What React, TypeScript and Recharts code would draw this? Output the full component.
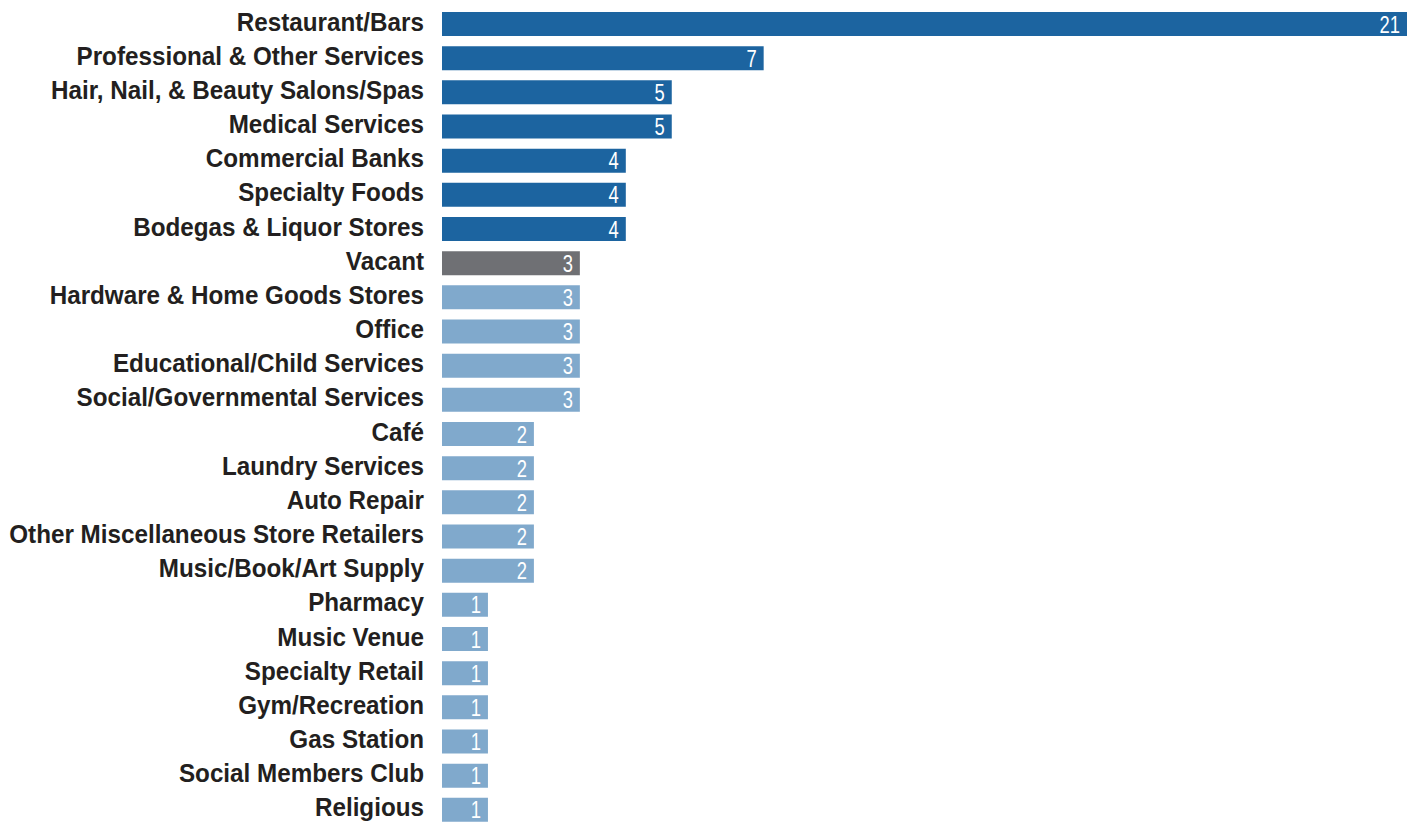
import React from 'react';
import { BarChart, Bar, XAxis, YAxis, Cell, LabelList } from 'recharts';

const categories = [
  'Restaurant/Bars',
  'Professional & Other Services',
  'Hair, Nail, & Beauty Salons/Spas',
  'Medical Services',
  'Commercial Banks',
  'Specialty Foods',
  'Bodegas & Liquor Stores',
  'Vacant',
  'Hardware & Home Goods Stores',
  'Office',
  'Educational/Child Services',
  'Social/Governmental Services',
  'Café',
  'Laundry Services',
  'Auto Repair',
  'Other Miscellaneous Store Retailers',
  'Music/Book/Art Supply',
  'Pharmacy',
  'Music Venue',
  'Specialty Retail',
  'Gym/Recreation',
  'Gas Station',
  'Social Members Club',
  'Religious',
];

const counts = [21, 7, 5, 5, 4, 4, 4, 3, 3, 3, 3, 3, 2, 2, 2, 2, 2, 1, 1, 1, 1, 1, 1, 1];

// which group each bar belongs to (top categories / vacant / everything else)
const groups = [
  'top', 'top', 'top', 'top', 'top', 'top', 'top',
  'vacant',
  'other', 'other', 'other', 'other', 'other', 'other', 'other', 'other', 'other',
  'other', 'other', 'other', 'other', 'other', 'other', 'other',
];

const GROUP_COLORS: Record<string, string> = {
  top: '#1c64a0',
  vacant: '#6f7074',
  other: '#80a9cc',
};

// no narrow font installed, so Liberation Sans gets squeezed horizontally
const FONT = '"Liberation Sans", Arial, sans-serif';

const data = categories.map((name, i) => ({ name, value: counts[i], group: groups[i] }));

const CategoryTick = (props: any) => {
  const { x, y, payload } = props;
  return (
    <g transform={`translate(${x},${y})`}>
      <text
        transform="scale(0.97,1)"
        textAnchor="end"
        dy={6.5}
        fill="#231f20"
        fontSize={25}
        fontWeight="bold"
        fontFamily={FONT}
      >
        {payload.value}
      </text>
    </g>
  );
};

// value printed in white at the right end of each bar
const InsideLabel = (props: any) => {
  const { x, y, width, height, value } = props;
  return (
    <g transform={`translate(${x + width - 7},${y + height / 2 + 8.5})`}>
      <text transform="scale(0.8,1)" textAnchor="end" fill="#ffffff" fontSize={23} fontFamily={FONT}>
        {value}
      </text>
    </g>
  );
};

export default function App() {
  return (
    <div style={{ position: 'absolute', left: 0, top: 0, width: 1420, height: 824, overflow: 'hidden', background: '#fff' }}>
      <BarChart
        width={1420}
        height={828}
        data={data}
        layout="vertical"
        margin={{ top: 7, right: 13, bottom: 1, left: 0 }}
        barCategoryGap={0}
      >
        <XAxis type="number" domain={[0, 21]} hide />
        <YAxis
          type="category"
          dataKey="name"
          width={442}
          axisLine={false}
          tickLine={false}
          tickSize={0}
          tickMargin={18}
          interval={0}
          tick={CategoryTick}
        />
        <Bar dataKey="value" barSize={24} isAnimationActive={false}>
          {data.map((d, i) => (
            <Cell key={`cell-${i}`} fill={GROUP_COLORS[d.group]} />
          ))}
          <LabelList dataKey="value" content={InsideLabel} />
        </Bar>
      </BarChart>
    </div>
  );
}
